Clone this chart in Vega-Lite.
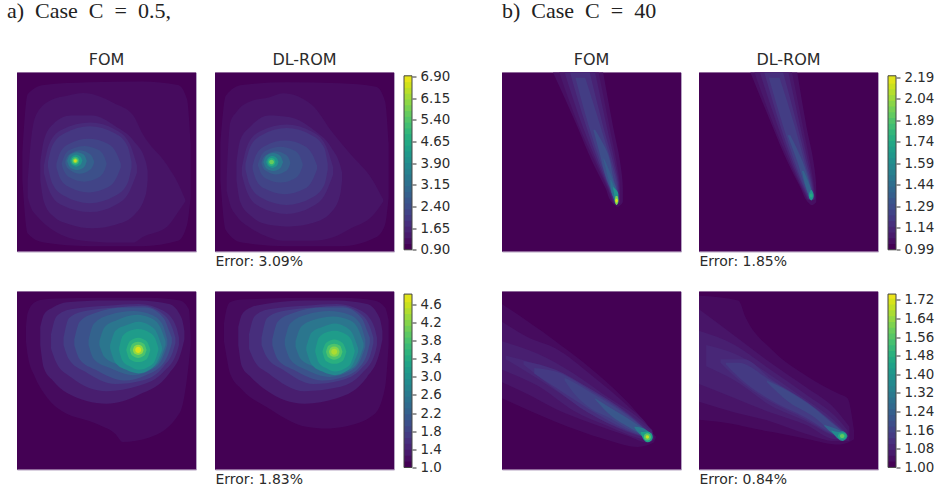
{"$schema":"https://vega.github.io/schema/vega-lite/v6.json","background":"white","padding":{"left":7,"top":-0.5,"right":5,"bottom":5},"bounds":"flush","columns":11,"spacing":{"row":40,"column":0},"resolve":{"scale":{"color":"independent"}},
"config":{"view":{"stroke":"#b5a3c2","strokeWidth":1},"title":{"font":"DejaVu Sans","fontWeight":"normal","fontSize":16,"color":"#2b2b2b","offset":5},"axis":{"labelFont":"DejaVu Sans","titleFont":"DejaVu Sans"}},
"data":{"values":[
{"p":"a1","l":0.9,"x":0,"y":0,"y2":100},{"p":"a1","l":0.9,"x":100,"y":0,"y2":100},
{"p":"a1","l":1.05,"x":3,"y":45,"y2":60},{"p":"a1","l":1.05,"x":6,"y":12,"y2":90},{"p":"a1","l":1.05,"x":15,"y":7,"y2":95},{"p":"a1","l":1.05,"x":40,"y":5.5,"y2":97},{"p":"a1","l":1.05,"x":70,"y":5,"y2":97},{"p":"a1","l":1.05,"x":90,"y":7,"y2":94},{"p":"a1","l":1.05,"x":95,"y":15,"y2":85},{"p":"a1","l":1.05,"x":97,"y":40,"y2":70},
{"p":"a1","l":1.2,"x":6,"y":60,"y2":70},{"p":"a1","l":1.2,"x":8,"y":36,"y2":76},{"p":"a1","l":1.2,"x":11,"y":23,"y2":80},{"p":"a1","l":1.2,"x":20,"y":15,"y2":88},{"p":"a1","l":1.2,"x":28,"y":13,"y2":92},{"p":"a1","l":1.2,"x":37,"y":11.5,"y2":94},{"p":"a1","l":1.2,"x":54,"y":17,"y2":95},{"p":"a1","l":1.2,"x":65,"y":24,"y2":95},{"p":"a1","l":1.2,"x":70,"y":34,"y2":92},{"p":"a1","l":1.2,"x":84,"y":52,"y2":86},{"p":"a1","l":1.2,"x":90,"y":62,"y2":78},{"p":"a1","l":1.2,"x":94,"y":71,"y2":72},
{"p":"a1","l":1.4,"x":13,"y":50,"y2":60},{"p":"a1","l":1.4,"x":15,"y":38,"y2":72},{"p":"a1","l":1.4,"x":20,"y":29,"y2":80},{"p":"a1","l":1.4,"x":30,"y":24,"y2":85},{"p":"a1","l":1.4,"x":42,"y":24,"y2":87},{"p":"a1","l":1.4,"x":55,"y":30,"y2":85},{"p":"a1","l":1.4,"x":65,"y":38,"y2":80},{"p":"a1","l":1.4,"x":72,"y":50,"y2":68},{"p":"a1","l":1.4,"x":73,"y":55,"y2":60},
{"p":"a1","l":1.6,"x":15,"y":52,"y2":56},{"p":"a1","l":1.6,"x":18,"y":40,"y2":66},{"p":"a1","l":1.6,"x":25,"y":32,"y2":74},{"p":"a1","l":1.6,"x":41,"y":28,"y2":78},{"p":"a1","l":1.6,"x":55,"y":32,"y2":74},{"p":"a1","l":1.6,"x":63,"y":40,"y2":66},{"p":"a1","l":1.6,"x":67,"y":52,"y2":56},
{"p":"a1","l":1.85,"x":17.3,"y":50,"y2":53},{"p":"a1","l":1.85,"x":19.7,"y":41,"y2":62},{"p":"a1","l":1.85,"x":26.6,"y":34,"y2":69},{"p":"a1","l":1.85,"x":40.6,"y":30,"y2":73},{"p":"a1","l":1.85,"x":54.6,"y":34,"y2":69},{"p":"a1","l":1.85,"x":61.7,"y":41,"y2":62},{"p":"a1","l":1.85,"x":64,"y":50,"y2":53},
{"p":"a1","l":2.1,"x":22,"y":51,"y2":53},{"p":"a1","l":2.1,"x":24,"y":45,"y2":59},{"p":"a1","l":2.1,"x":29,"y":40,"y2":64},{"p":"a1","l":2.1,"x":40,"y":37,"y2":67},{"p":"a1","l":2.1,"x":51,"y":40,"y2":64},{"p":"a1","l":2.1,"x":55.5,"y":45,"y2":59},{"p":"a1","l":2.1,"x":58,"y":51,"y2":53},
{"p":"a1","l":2.35,"x":25,"y":50.5,"y2":51.5},{"p":"a1","l":2.35,"x":26.5,"y":46.5,"y2":55.5},{"p":"a1","l":2.35,"x":30,"y":43,"y2":59},{"p":"a1","l":2.35,"x":37.5,"y":41,"y2":61},{"p":"a1","l":2.35,"x":45,"y":43,"y2":59},{"p":"a1","l":2.35,"x":48.5,"y":46.5,"y2":55.5},{"p":"a1","l":2.35,"x":50,"y":50.5,"y2":51.5},
{"p":"a1","l":2.7,"x":27,"y":49.5,"y2":50.5},{"p":"a1","l":2.7,"x":28,"y":47,"y2":53},{"p":"a1","l":2.7,"x":30.5,"y":45,"y2":55},{"p":"a1","l":2.7,"x":35,"y":43.5,"y2":56.5},{"p":"a1","l":2.7,"x":39.8,"y":45,"y2":55},{"p":"a1","l":2.7,"x":42,"y":47,"y2":53},{"p":"a1","l":2.7,"x":43,"y":49.5,"y2":50.5},
{"p":"a1","l":3.3,"x":28,"y":49.5,"y2":49.5},{"p":"a1","l":3.3,"x":29.6,"y":46,"y2":53},{"p":"a1","l":3.3,"x":33.5,"y":44.5,"y2":54.5},{"p":"a1","l":3.3,"x":37.4,"y":46,"y2":53},{"p":"a1","l":3.3,"x":39,"y":49.5,"y2":49.5},
{"p":"a1","l":4,"x":29.5,"y":49.3,"y2":49.3},{"p":"a1","l":4,"x":30.6,"y":47,"y2":51.6},{"p":"a1","l":4,"x":33,"y":46,"y2":52.6},{"p":"a1","l":4,"x":35.4,"y":47,"y2":51.6},{"p":"a1","l":4,"x":36.5,"y":49.3,"y2":49.3},
{"p":"a1","l":4.9,"x":30.4,"y":49.3,"y2":49.3},{"p":"a1","l":4.9,"x":31,"y":47.8,"y2":50.8},{"p":"a1","l":4.9,"x":32.6,"y":47.1,"y2":51.5},{"p":"a1","l":4.9,"x":34.2,"y":47.8,"y2":50.8},{"p":"a1","l":4.9,"x":34.8,"y":49.3,"y2":49.3},
{"p":"a1","l":5.7,"x":31.1,"y":49.3,"y2":49.3},{"p":"a1","l":5.7,"x":31.6,"y":48.3,"y2":50.3},{"p":"a1","l":5.7,"x":32.6,"y":47.9,"y2":50.7},{"p":"a1","l":5.7,"x":33.6,"y":48.3,"y2":50.3},{"p":"a1","l":5.7,"x":34.1,"y":49.3,"y2":49.3},
{"p":"a1","l":6.5,"x":31.8,"y":49.3,"y2":49.3},{"p":"a1","l":6.5,"x":32,"y":48.8,"y2":49.8},{"p":"a1","l":6.5,"x":32.6,"y":48.5,"y2":50.1},{"p":"a1","l":6.5,"x":33.2,"y":48.8,"y2":49.8},{"p":"a1","l":6.5,"x":33.4,"y":49.3,"y2":49.3},

{"p":"a2","l":0.9,"x":0,"y":0,"y2":100},{"p":"a2","l":0.9,"x":100,"y":0,"y2":100},
{"p":"a2","l":1.05,"x":3,"y":40,"y2":60},{"p":"a2","l":1.05,"x":6,"y":13,"y2":88},{"p":"a2","l":1.05,"x":15,"y":7,"y2":95},{"p":"a2","l":1.05,"x":40,"y":5.5,"y2":97},{"p":"a2","l":1.05,"x":70,"y":6,"y2":97},{"p":"a2","l":1.05,"x":90,"y":8,"y2":92},{"p":"a2","l":1.05,"x":95,"y":16,"y2":85},{"p":"a2","l":1.05,"x":97,"y":40,"y2":70},
{"p":"a2","l":1.2,"x":6.5,"y":60,"y2":66},{"p":"a2","l":1.2,"x":8.5,"y":28,"y2":74},{"p":"a2","l":1.2,"x":12,"y":22,"y2":80},{"p":"a2","l":1.2,"x":20,"y":16,"y2":87},{"p":"a2","l":1.2,"x":30,"y":14,"y2":92},{"p":"a2","l":1.2,"x":38,"y":11.6,"y2":94},{"p":"a2","l":1.2,"x":54,"y":18,"y2":94},{"p":"a2","l":1.2,"x":66,"y":34,"y2":92},{"p":"a2","l":1.2,"x":76,"y":46,"y2":87},{"p":"a2","l":1.2,"x":88,"y":60,"y2":80},{"p":"a2","l":1.2,"x":94,"y":71,"y2":72},
{"p":"a2","l":1.4,"x":12,"y":50,"y2":60},{"p":"a2","l":1.4,"x":14,"y":38,"y2":72},{"p":"a2","l":1.4,"x":20,"y":30,"y2":80},{"p":"a2","l":1.4,"x":30,"y":24,"y2":85},{"p":"a2","l":1.4,"x":42,"y":25,"y2":86},{"p":"a2","l":1.4,"x":55,"y":32,"y2":84},{"p":"a2","l":1.4,"x":65,"y":42,"y2":78},{"p":"a2","l":1.4,"x":70,"y":52,"y2":68},{"p":"a2","l":1.4,"x":71,"y":56,"y2":60},
{"p":"a2","l":1.6,"x":15,"y":53,"y2":57},{"p":"a2","l":1.6,"x":18,"y":41,"y2":67},{"p":"a2","l":1.6,"x":25,"y":33,"y2":75},{"p":"a2","l":1.6,"x":40,"y":29,"y2":79},{"p":"a2","l":1.6,"x":54,"y":33,"y2":75},{"p":"a2","l":1.6,"x":62,"y":41,"y2":67},{"p":"a2","l":1.6,"x":66,"y":53,"y2":57},
{"p":"a2","l":1.85,"x":17,"y":51,"y2":54},{"p":"a2","l":1.85,"x":19.5,"y":42,"y2":63},{"p":"a2","l":1.85,"x":26,"y":35,"y2":70},{"p":"a2","l":1.85,"x":40,"y":31,"y2":74},{"p":"a2","l":1.85,"x":54,"y":35,"y2":70},{"p":"a2","l":1.85,"x":61,"y":42,"y2":63},{"p":"a2","l":1.85,"x":63,"y":51,"y2":54},
{"p":"a2","l":2.1,"x":21,"y":52,"y2":54},{"p":"a2","l":2.1,"x":23,"y":46,"y2":60},{"p":"a2","l":2.1,"x":28,"y":41,"y2":65},{"p":"a2","l":2.1,"x":39,"y":38,"y2":68},{"p":"a2","l":2.1,"x":50,"y":41,"y2":65},{"p":"a2","l":2.1,"x":54.5,"y":46,"y2":60},{"p":"a2","l":2.1,"x":57,"y":52,"y2":54},
{"p":"a2","l":2.35,"x":24,"y":51,"y2":52},{"p":"a2","l":2.35,"x":25.5,"y":47,"y2":56},{"p":"a2","l":2.35,"x":29,"y":43.5,"y2":59.5},{"p":"a2","l":2.35,"x":36.5,"y":41.5,"y2":61.5},{"p":"a2","l":2.35,"x":44,"y":43.5,"y2":59.5},{"p":"a2","l":2.35,"x":47.5,"y":47,"y2":56},{"p":"a2","l":2.35,"x":49,"y":51,"y2":52},
{"p":"a2","l":2.7,"x":26,"y":50,"y2":51},{"p":"a2","l":2.7,"x":27,"y":47.5,"y2":53.5},{"p":"a2","l":2.7,"x":29.5,"y":45.5,"y2":55.5},{"p":"a2","l":2.7,"x":34,"y":44,"y2":57},{"p":"a2","l":2.7,"x":38.8,"y":45.5,"y2":55.5},{"p":"a2","l":2.7,"x":41,"y":47.5,"y2":53.5},{"p":"a2","l":2.7,"x":42,"y":50,"y2":51},
{"p":"a2","l":3.3,"x":27,"y":50,"y2":50},{"p":"a2","l":3.3,"x":28.6,"y":46.5,"y2":53.5},{"p":"a2","l":3.3,"x":32.5,"y":45,"y2":55},{"p":"a2","l":3.3,"x":36.4,"y":46.5,"y2":53.5},{"p":"a2","l":3.3,"x":38,"y":50,"y2":50},
{"p":"a2","l":4,"x":28.5,"y":50,"y2":50},{"p":"a2","l":4,"x":29.6,"y":47.7,"y2":52.3},{"p":"a2","l":4,"x":32,"y":46.7,"y2":53.3},{"p":"a2","l":4,"x":34.4,"y":47.7,"y2":52.3},{"p":"a2","l":4,"x":35.5,"y":50,"y2":50},
{"p":"a2","l":4.7,"x":29.4,"y":50,"y2":50},{"p":"a2","l":4.7,"x":30,"y":48.5,"y2":51.5},{"p":"a2","l":4.7,"x":31.6,"y":47.8,"y2":52.2},{"p":"a2","l":4.7,"x":33.2,"y":48.5,"y2":51.5},{"p":"a2","l":4.7,"x":33.8,"y":50,"y2":50},
{"p":"a2","l":5.5,"x":30.2,"y":50,"y2":50},{"p":"a2","l":5.5,"x":30.7,"y":49,"y2":51},{"p":"a2","l":5.5,"x":31.6,"y":48.7,"y2":51.3},{"p":"a2","l":5.5,"x":32.5,"y":49,"y2":51},{"p":"a2","l":5.5,"x":33,"y":50,"y2":50},
{"p":"a3","l":1,"x":0,"y":0,"y2":100},{"p":"a3","l":1,"x":100,"y":0,"y2":100},
{"p":"a3","l":1.1,"x":5,"y":20,"y2":28},{"p":"a3","l":1.1,"x":6,"y":12,"y2":36},{"p":"a3","l":1.1,"x":10,"y":6,"y2":48},{"p":"a3","l":1.1,"x":15,"y":4.5,"y2":57},{"p":"a3","l":1.1,"x":22,"y":4,"y2":65},{"p":"a3","l":1.1,"x":46,"y":3.5,"y2":75},{"p":"a3","l":1.1,"x":55,"y":3.5,"y2":80},{"p":"a3","l":1.1,"x":59,"y":3.5,"y2":84.5},{"p":"a3","l":1.1,"x":74,"y":3.5,"y2":82},{"p":"a3","l":1.1,"x":91,"y":5,"y2":68},{"p":"a3","l":1.1,"x":96,"y":10,"y2":40},{"p":"a3","l":1.1,"x":97,"y":25,"y2":30},
{"p":"a3","l":1.3,"x":13,"y":20,"y2":30},{"p":"a3","l":1.3,"x":15,"y":13,"y2":43},{"p":"a3","l":1.3,"x":20,"y":9,"y2":50},{"p":"a3","l":1.3,"x":28,"y":6,"y2":57},{"p":"a3","l":1.3,"x":50,"y":5,"y2":63},{"p":"a3","l":1.3,"x":68,"y":5,"y2":58},{"p":"a3","l":1.3,"x":85,"y":7,"y2":46},{"p":"a3","l":1.3,"x":92,"y":15,"y2":33},{"p":"a3","l":1.3,"x":93.5,"y":22,"y2":27},
{"p":"a3","l":1.5,"x":19,"y":24,"y2":32},{"p":"a3","l":1.5,"x":22,"y":14,"y2":40},{"p":"a3","l":1.5,"x":30,"y":10,"y2":48},{"p":"a3","l":1.5,"x":50,"y":8,"y2":56},{"p":"a3","l":1.5,"x":68,"y":7,"y2":53},{"p":"a3","l":1.5,"x":82,"y":11,"y2":45},{"p":"a3","l":1.5,"x":89,"y":20,"y2":35},{"p":"a3","l":1.5,"x":90.5,"y":26,"y2":30},
{"p":"a3","l":1.7,"x":26,"y":26,"y2":30},{"p":"a3","l":1.7,"x":29,"y":15,"y2":38},{"p":"a3","l":1.7,"x":38,"y":11,"y2":45},{"p":"a3","l":1.7,"x":55,"y":9,"y2":52},{"p":"a3","l":1.7,"x":70,"y":8,"y2":50},{"p":"a3","l":1.7,"x":82,"y":13,"y2":42},{"p":"a3","l":1.7,"x":87,"y":21,"y2":34},{"p":"a3","l":1.7,"x":88.5,"y":26,"y2":29},
{"p":"a3","l":1.95,"x":32,"y":27,"y2":30},{"p":"a3","l":1.95,"x":35,"y":17,"y2":38},{"p":"a3","l":1.95,"x":44,"y":12,"y2":44},{"p":"a3","l":1.95,"x":60,"y":9,"y2":50},{"p":"a3","l":1.95,"x":72,"y":9,"y2":47},{"p":"a3","l":1.95,"x":82,"y":15,"y2":40},{"p":"a3","l":1.95,"x":85,"y":22,"y2":34},{"p":"a3","l":1.95,"x":86.5,"y":26,"y2":29},
{"p":"a3","l":2.2,"x":40,"y":27,"y2":30},{"p":"a3","l":2.2,"x":43,"y":18,"y2":38},{"p":"a3","l":2.2,"x":52,"y":13,"y2":43},{"p":"a3","l":2.2,"x":65,"y":11,"y2":47},{"p":"a3","l":2.2,"x":75,"y":13,"y2":44},{"p":"a3","l":2.2,"x":81,"y":18,"y2":38},{"p":"a3","l":2.2,"x":84,"y":27,"y2":30},
{"p":"a3","l":2.5,"x":46,"y":28,"y2":30},{"p":"a3","l":2.5,"x":49,"y":20,"y2":37},{"p":"a3","l":2.5,"x":56,"y":16,"y2":41},{"p":"a3","l":2.5,"x":67,"y":13,"y2":45},{"p":"a3","l":2.5,"x":75,"y":15,"y2":43},{"p":"a3","l":2.5,"x":80,"y":20,"y2":38},{"p":"a3","l":2.5,"x":83,"y":28,"y2":30},
{"p":"a3","l":2.8,"x":52,"y":30,"y2":32},{"p":"a3","l":2.8,"x":55,"y":22,"y2":40},{"p":"a3","l":2.8,"x":61,"y":19,"y2":44},{"p":"a3","l":2.8,"x":68,"y":17,"y2":46},{"p":"a3","l":2.8,"x":74,"y":19,"y2":44},{"p":"a3","l":2.8,"x":78,"y":23,"y2":40},{"p":"a3","l":2.8,"x":81,"y":31,"y2":33},
{"p":"a3","l":3.1,"x":57,"y":32,"y2":33},{"p":"a3","l":3.1,"x":59,"y":25,"y2":39},{"p":"a3","l":3.1,"x":63,"y":22,"y2":42},{"p":"a3","l":3.1,"x":68,"y":21,"y2":44},{"p":"a3","l":3.1,"x":74,"y":23,"y2":42},{"p":"a3","l":3.1,"x":77,"y":26,"y2":39},{"p":"a3","l":3.1,"x":79,"y":32,"y2":33},
{"p":"a3","l":3.4,"x":61,"y":32.8,"y2":32.8},{"p":"a3","l":3.4,"x":63,"y":28,"y2":38},{"p":"a3","l":3.4,"x":67.7,"y":26,"y2":39.6},{"p":"a3","l":3.4,"x":72.4,"y":28,"y2":38},{"p":"a3","l":3.4,"x":74.5,"y":32.8,"y2":32.8},
{"p":"a3","l":3.75,"x":63,"y":32.8,"y2":32.8},{"p":"a3","l":3.75,"x":64.4,"y":29.5,"y2":36},{"p":"a3","l":3.75,"x":67.7,"y":28.3,"y2":37.3},{"p":"a3","l":3.75,"x":71,"y":29.5,"y2":36},{"p":"a3","l":3.75,"x":72.4,"y":32.8,"y2":32.8},
{"p":"a3","l":4.2,"x":64.7,"y":32.8,"y2":32.8},{"p":"a3","l":4.2,"x":65.6,"y":30.7,"y2":34.9},{"p":"a3","l":4.2,"x":67.7,"y":29.9,"y2":35.7},{"p":"a3","l":4.2,"x":69.8,"y":30.7,"y2":34.9},{"p":"a3","l":4.2,"x":70.7,"y":32.8,"y2":32.8},
{"p":"a3","l":4.6,"x":66,"y":32.8,"y2":32.8},{"p":"a3","l":4.6,"x":66.5,"y":31.6,"y2":34},{"p":"a3","l":4.6,"x":67.7,"y":31.1,"y2":34.5},{"p":"a3","l":4.6,"x":68.9,"y":31.6,"y2":34},{"p":"a3","l":4.6,"x":69.4,"y":32.8,"y2":32.8},

{"p":"a4","l":1,"x":0,"y":0,"y2":100},{"p":"a4","l":1,"x":100,"y":0,"y2":100},
{"p":"a4","l":1.1,"x":5,"y":18,"y2":28},{"p":"a4","l":1.1,"x":6,"y":12,"y2":34},{"p":"a4","l":1.1,"x":8.4,"y":6,"y2":46},{"p":"a4","l":1.1,"x":15,"y":4.5,"y2":55},{"p":"a4","l":1.1,"x":29,"y":4,"y2":65},{"p":"a4","l":1.1,"x":51,"y":3.5,"y2":76},{"p":"a4","l":1.1,"x":62,"y":3.5,"y2":77},{"p":"a4","l":1.1,"x":72,"y":3.5,"y2":76},{"p":"a4","l":1.1,"x":89,"y":5,"y2":69},{"p":"a4","l":1.1,"x":95,"y":9,"y2":54},{"p":"a4","l":1.1,"x":97,"y":16,"y2":30},
{"p":"a4","l":1.3,"x":13,"y":20,"y2":30},{"p":"a4","l":1.3,"x":15,"y":13,"y2":42},{"p":"a4","l":1.3,"x":20,"y":9,"y2":48},{"p":"a4","l":1.3,"x":28,"y":7,"y2":55},{"p":"a4","l":1.3,"x":50,"y":5,"y2":63},{"p":"a4","l":1.3,"x":68,"y":5,"y2":60},{"p":"a4","l":1.3,"x":85,"y":7,"y2":48},{"p":"a4","l":1.3,"x":92,"y":15,"y2":34},{"p":"a4","l":1.3,"x":93.5,"y":22,"y2":27},
{"p":"a4","l":1.5,"x":19,"y":24,"y2":32},{"p":"a4","l":1.5,"x":22,"y":14,"y2":39},{"p":"a4","l":1.5,"x":30,"y":10,"y2":46},{"p":"a4","l":1.5,"x":50,"y":8,"y2":56},{"p":"a4","l":1.5,"x":68,"y":7,"y2":54},{"p":"a4","l":1.5,"x":82,"y":11,"y2":46},{"p":"a4","l":1.5,"x":89,"y":20,"y2":36},{"p":"a4","l":1.5,"x":90.5,"y":26,"y2":30},
{"p":"a4","l":1.7,"x":26,"y":26,"y2":30},{"p":"a4","l":1.7,"x":29,"y":15,"y2":37},{"p":"a4","l":1.7,"x":38,"y":11,"y2":44},{"p":"a4","l":1.7,"x":55,"y":9,"y2":52},{"p":"a4","l":1.7,"x":70,"y":8,"y2":50},{"p":"a4","l":1.7,"x":82,"y":13,"y2":43},{"p":"a4","l":1.7,"x":87,"y":21,"y2":35},{"p":"a4","l":1.7,"x":88.5,"y":26,"y2":29},
{"p":"a4","l":1.95,"x":32,"y":27,"y2":30},{"p":"a4","l":1.95,"x":35,"y":17,"y2":38},{"p":"a4","l":1.95,"x":44,"y":12,"y2":44},{"p":"a4","l":1.95,"x":60,"y":9,"y2":50},{"p":"a4","l":1.95,"x":72,"y":9,"y2":48},{"p":"a4","l":1.95,"x":82,"y":15,"y2":41},{"p":"a4","l":1.95,"x":85,"y":22,"y2":35},{"p":"a4","l":1.95,"x":86.5,"y":26,"y2":29},
{"p":"a4","l":2.2,"x":39,"y":27,"y2":30},{"p":"a4","l":2.2,"x":42,"y":18,"y2":38},{"p":"a4","l":2.2,"x":51,"y":13,"y2":44},{"p":"a4","l":2.2,"x":64,"y":11,"y2":48},{"p":"a4","l":2.2,"x":75,"y":13,"y2":45},{"p":"a4","l":2.2,"x":81,"y":18,"y2":39},{"p":"a4","l":2.2,"x":84,"y":27,"y2":31},
{"p":"a4","l":2.5,"x":45,"y":28,"y2":31},{"p":"a4","l":2.5,"x":48,"y":20,"y2":38},{"p":"a4","l":2.5,"x":55,"y":16,"y2":42},{"p":"a4","l":2.5,"x":66,"y":14,"y2":46},{"p":"a4","l":2.5,"x":75,"y":16,"y2":44},{"p":"a4","l":2.5,"x":80,"y":21,"y2":39},{"p":"a4","l":2.5,"x":83,"y":29,"y2":31},
{"p":"a4","l":2.8,"x":51,"y":31,"y2":33},{"p":"a4","l":2.8,"x":54,"y":23,"y2":41},{"p":"a4","l":2.8,"x":60,"y":20,"y2":45},{"p":"a4","l":2.8,"x":67,"y":18,"y2":47},{"p":"a4","l":2.8,"x":73,"y":20,"y2":45},{"p":"a4","l":2.8,"x":77,"y":24,"y2":41},{"p":"a4","l":2.8,"x":80,"y":32,"y2":34},
{"p":"a4","l":3.1,"x":56,"y":33,"y2":34},{"p":"a4","l":3.1,"x":58,"y":26,"y2":40},{"p":"a4","l":3.1,"x":62,"y":23,"y2":43},{"p":"a4","l":3.1,"x":67,"y":22,"y2":45},{"p":"a4","l":3.1,"x":73,"y":24,"y2":43},{"p":"a4","l":3.1,"x":76,"y":27,"y2":40},{"p":"a4","l":3.1,"x":78,"y":33,"y2":34},
{"p":"a4","l":3.4,"x":60,"y":33.8,"y2":33.8},{"p":"a4","l":3.4,"x":62,"y":29,"y2":39},{"p":"a4","l":3.4,"x":66.6,"y":27,"y2":40.6},{"p":"a4","l":3.4,"x":71.3,"y":29,"y2":39},{"p":"a4","l":3.4,"x":73.4,"y":33.8,"y2":33.8},
{"p":"a4","l":3.75,"x":62,"y":33.8,"y2":33.8},{"p":"a4","l":3.75,"x":63.3,"y":30.5,"y2":37},{"p":"a4","l":3.75,"x":66.6,"y":29.3,"y2":38.3},{"p":"a4","l":3.75,"x":69.9,"y":30.5,"y2":37},{"p":"a4","l":3.75,"x":71.2,"y":33.8,"y2":33.8},
{"p":"a4","l":4.1,"x":63.6,"y":33.8,"y2":33.8},{"p":"a4","l":4.1,"x":64.5,"y":31.7,"y2":35.9},{"p":"a4","l":4.1,"x":66.6,"y":30.9,"y2":36.7},{"p":"a4","l":4.1,"x":68.7,"y":31.7,"y2":35.9},{"p":"a4","l":4.1,"x":69.6,"y":33.8,"y2":33.8},
{"p":"a4","l":4.35,"x":64.9,"y":33.8,"y2":33.8},{"p":"a4","l":4.35,"x":65.4,"y":32.6,"y2":35},{"p":"a4","l":4.35,"x":66.6,"y":32.1,"y2":35.5},{"p":"a4","l":4.35,"x":67.8,"y":32.6,"y2":35},{"p":"a4","l":4.35,"x":68.3,"y":33.8,"y2":33.8},

{"p":"b1","l":0.985,"y":0,"x":0,"x2":100},{"p":"b1","l":0.985,"y":100,"x":0,"x2":100},
{"p":"b1","l":1.03,"y":0,"x":28.5,"x2":56.5},{"p":"b1","l":1.03,"y":30,"x":42,"x2":62},{"p":"b1","l":1.03,"y":50,"x":50.5,"x2":66},{"p":"b1","l":1.03,"y":65,"x":58,"x2":67.5},{"p":"b1","l":1.03,"y":72,"x":61,"x2":67.5},{"p":"b1","l":1.03,"y":75,"x":64,"x2":65},
{"p":"b1","l":1.06,"y":0,"x":32,"x2":54},{"p":"b1","l":1.06,"y":30,"x":43,"x2":60},{"p":"b1","l":1.06,"y":50,"x":52,"x2":64},{"p":"b1","l":1.06,"y":65,"x":59,"x2":66},{"p":"b1","l":1.06,"y":73,"x":62,"x2":66},
{"p":"b1","l":1.1,"y":0,"x":35,"x2":52},{"p":"b1","l":1.1,"y":30,"x":45,"x2":58.5},{"p":"b1","l":1.1,"y":50,"x":53,"x2":63},{"p":"b1","l":1.1,"y":65,"x":59.5,"x2":65.5},{"p":"b1","l":1.1,"y":73,"x":62.5,"x2":65.5},
{"p":"b1","l":1.15,"y":0,"x":38,"x2":49},{"p":"b1","l":1.15,"y":30,"x":47,"x2":56.5},{"p":"b1","l":1.15,"y":50,"x":54,"x2":62},{"p":"b1","l":1.15,"y":65,"x":60,"x2":65},{"p":"b1","l":1.15,"y":73,"x":63,"x2":65},
{"p":"b1","l":1.2,"y":3,"x":41,"x2":46.5},{"p":"b1","l":1.2,"y":30,"x":48.5,"x2":55},{"p":"b1","l":1.2,"y":50,"x":55,"x2":61},{"p":"b1","l":1.2,"y":65,"x":60.5,"x2":64.5},{"p":"b1","l":1.2,"y":73,"x":63.3,"x2":64.7},
{"p":"b1","l":1.27,"y":32,"x":51,"x2":52},{"p":"b1","l":1.27,"y":45,"x":54.5,"x2":59},{"p":"b1","l":1.27,"y":60,"x":58.5,"x2":62.5},{"p":"b1","l":1.27,"y":65,"x":60.5,"x2":64},{"p":"b1","l":1.27,"y":73,"x":63.5,"x2":64.5},
{"p":"b1","l":1.33,"y":48,"x":56.5,"x2":57},{"p":"b1","l":1.33,"y":60,"x":59.5,"x2":62},{"p":"b1","l":1.33,"y":68,"x":61.5,"x2":64.5},{"p":"b1","l":1.33,"y":73.5,"x":63.7,"x2":64.3},
{"p":"b1","l":1.42,"y":60,"x":60.5,"x2":61},{"p":"b1","l":1.42,"y":66,"x":61,"x2":63.5},{"p":"b1","l":1.42,"y":70,"x":62.3,"x2":65},{"p":"b1","l":1.42,"y":74,"x":64,"x2":64.1},
{"p":"b1","l":1.6,"y":64,"x":61.9,"x2":62.1},{"p":"b1","l":1.6,"y":68,"x":62.6,"x2":65},{"p":"b1","l":1.6,"y":71.5,"x":63,"x2":65},{"p":"b1","l":1.6,"y":74,"x":64,"x2":64.1},
{"p":"b1","l":1.95,"y":69,"x":63.5,"x2":64.5},{"p":"b1","l":1.95,"y":70,"x":63.2,"x2":64.8},{"p":"b1","l":1.95,"y":71.6,"x":63,"x2":65},{"p":"b1","l":1.95,"y":73.2,"x":63.3,"x2":64.7},{"p":"b1","l":1.95,"y":74,"x":63.9,"x2":64.1},
{"p":"b1","l":2.15,"y":70.6,"x":64,"x2":64},{"p":"b1","l":2.15,"y":71,"x":63.5,"x2":64.5},{"p":"b1","l":2.15,"y":71.6,"x":63.3,"x2":64.7},{"p":"b1","l":2.15,"y":72.2,"x":63.5,"x2":64.5},{"p":"b1","l":2.15,"y":72.8,"x":64,"x2":64},

{"p":"b2","l":0.985,"y":0,"x":0,"x2":100},{"p":"b2","l":0.985,"y":100,"x":0,"x2":100},
{"p":"b2","l":1.03,"y":0,"x":28.7,"x2":54.9},{"p":"b2","l":1.03,"y":30,"x":41,"x2":60},{"p":"b2","l":1.03,"y":50,"x":49.5,"x2":64},{"p":"b2","l":1.03,"y":65,"x":57,"x2":65.5},{"p":"b2","l":1.03,"y":72,"x":60.5,"x2":65.5},{"p":"b2","l":1.03,"y":74,"x":62.5,"x2":63.5},
{"p":"b2","l":1.06,"y":0,"x":31,"x2":52},{"p":"b2","l":1.06,"y":30,"x":42,"x2":58},{"p":"b2","l":1.06,"y":50,"x":50.5,"x2":62},{"p":"b2","l":1.06,"y":65,"x":57.5,"x2":64.5},{"p":"b2","l":1.06,"y":71,"x":60.5,"x2":65},
{"p":"b2","l":1.1,"y":0,"x":34,"x2":50},{"p":"b2","l":1.1,"y":30,"x":44,"x2":56.5},{"p":"b2","l":1.1,"y":50,"x":51.5,"x2":61},{"p":"b2","l":1.1,"y":65,"x":58,"x2":64},{"p":"b2","l":1.1,"y":71,"x":61,"x2":64.5},
{"p":"b2","l":1.15,"y":0,"x":36.5,"x2":47},{"p":"b2","l":1.15,"y":30,"x":45.5,"x2":55},{"p":"b2","l":1.15,"y":50,"x":52.5,"x2":60},{"p":"b2","l":1.15,"y":65,"x":58.7,"x2":63.5},{"p":"b2","l":1.15,"y":71,"x":61.5,"x2":64},
{"p":"b2","l":1.2,"y":3,"x":39,"x2":45},{"p":"b2","l":1.2,"y":30,"x":47,"x2":53.5},{"p":"b2","l":1.2,"y":50,"x":53.5,"x2":59},{"p":"b2","l":1.2,"y":65,"x":59.2,"x2":63},{"p":"b2","l":1.2,"y":71,"x":62,"x2":63.5},
{"p":"b2","l":1.27,"y":35,"x":49.5,"x2":51},{"p":"b2","l":1.27,"y":50,"x":55,"x2":58},{"p":"b2","l":1.27,"y":65,"x":59.8,"x2":62.5},{"p":"b2","l":1.27,"y":70.5,"x":62,"x2":63.3},
{"p":"b2","l":1.36,"y":55,"x":57.5,"x2":58.5},{"p":"b2","l":1.36,"y":65,"x":60,"x2":62.5},{"p":"b2","l":1.36,"y":70.5,"x":62,"x2":63.5},
{"p":"b2","l":1.6,"y":65.5,"x":62.6,"x2":62.8},{"p":"b2","l":1.6,"y":67,"x":61.7,"x2":63.7},{"p":"b2","l":1.6,"y":68.8,"x":61.3,"x2":64.1},{"p":"b2","l":1.6,"y":70.6,"x":61.8,"x2":63.6},{"p":"b2","l":1.6,"y":71.5,"x":62.6,"x2":62.8},
{"p":"b2","l":1.72,"y":67.6,"x":62.7,"x2":62.7},{"p":"b2","l":1.72,"y":68,"x":62.1,"x2":63.3},{"p":"b2","l":1.72,"y":68.8,"x":61.9,"x2":63.5},{"p":"b2","l":1.72,"y":69.6,"x":62.1,"x2":63.3},{"p":"b2","l":1.72,"y":70,"x":62.7,"x2":62.7},

{"p":"b3","l":1,"x":0,"y":0,"y2":100},{"p":"b3","l":1,"x":100,"y":0,"y2":100},
{"p":"b3","l":1.02,"x":0,"y":7,"y2":60},{"p":"b3","l":1.02,"x":29.5,"y":27.6,"y2":73},{"p":"b3","l":1.02,"x":57.5,"y":50,"y2":83},{"p":"b3","l":1.02,"x":76,"y":68.7,"y2":87.3},{"p":"b3","l":1.02,"x":84.5,"y":80,"y2":85},{"p":"b3","l":1.02,"x":86,"y":81.5,"y2":82},
{"p":"b3","l":1.04,"x":0,"y":17,"y2":51},{"p":"b3","l":1.04,"x":15,"y":26,"y2":58},{"p":"b3","l":1.04,"x":30,"y":32,"y2":66},{"p":"b3","l":1.04,"x":50,"y":47,"y2":74},{"p":"b3","l":1.04,"x":70,"y":64,"y2":81},{"p":"b3","l":1.04,"x":82,"y":76,"y2":85},{"p":"b3","l":1.04,"x":85,"y":81,"y2":83},
{"p":"b3","l":1.06,"x":0,"y":28,"y2":44},{"p":"b3","l":1.06,"x":20,"y":35,"y2":53},{"p":"b3","l":1.06,"x":40,"y":46,"y2":67},{"p":"b3","l":1.06,"x":60,"y":60,"y2":76},{"p":"b3","l":1.06,"x":75,"y":70,"y2":82},{"p":"b3","l":1.06,"x":84,"y":78,"y2":84},
{"p":"b3","l":1.08,"x":2,"y":36,"y2":38},{"p":"b3","l":1.08,"x":20,"y":41,"y2":49},{"p":"b3","l":1.08,"x":35,"y":47,"y2":59},{"p":"b3","l":1.08,"x":50,"y":55,"y2":69},{"p":"b3","l":1.08,"x":70,"y":68,"y2":79},{"p":"b3","l":1.08,"x":84,"y":79,"y2":83.5},
{"p":"b3","l":1.1,"x":12,"y":39,"y2":41},{"p":"b3","l":1.1,"x":30,"y":44,"y2":55},{"p":"b3","l":1.1,"x":48,"y":54,"y2":68},{"p":"b3","l":1.1,"x":70,"y":68.5,"y2":78.5},{"p":"b3","l":1.1,"x":83.5,"y":80,"y2":83},
{"p":"b3","l":1.125,"x":18,"y":43,"y2":46},{"p":"b3","l":1.125,"x":30,"y":45,"y2":54},{"p":"b3","l":1.125,"x":50,"y":56,"y2":67},{"p":"b3","l":1.125,"x":70,"y":69,"y2":78},{"p":"b3","l":1.125,"x":83,"y":80,"y2":83},
{"p":"b3","l":1.15,"x":35,"y":48.5,"y2":50},{"p":"b3","l":1.15,"x":40,"y":51,"y2":57},{"p":"b3","l":1.15,"x":50,"y":57,"y2":66},{"p":"b3","l":1.15,"x":60,"y":63,"y2":71},{"p":"b3","l":1.15,"x":72,"y":71,"y2":78},{"p":"b3","l":1.15,"x":83,"y":80,"y2":83},
{"p":"b3","l":1.2,"x":52,"y":60,"y2":60.5},{"p":"b3","l":1.2,"x":60,"y":65,"y2":69},{"p":"b3","l":1.2,"x":73,"y":73,"y2":77.5},{"p":"b3","l":1.2,"x":83,"y":80,"y2":83.4},
{"p":"b3","l":1.3,"x":74,"y":76,"y2":76.5},{"p":"b3","l":1.3,"x":78,"y":76.5,"y2":81},{"p":"b3","l":1.3,"x":84,"y":80.5,"y2":83},
{"p":"b3","l":1.42,"x":77.5,"y":79,"y2":79.5},{"p":"b3","l":1.42,"x":79,"y":79,"y2":83},{"p":"b3","l":1.42,"x":81.2,"y":78.7,"y2":84.7},{"p":"b3","l":1.42,"x":83.4,"y":79.6,"y2":83.8},{"p":"b3","l":1.42,"x":84.2,"y":81.7,"y2":81.7},
{"p":"b3","l":1.55,"x":79.2,"y":81.7,"y2":81.7},{"p":"b3","l":1.55,"x":79.8,"y":80.2,"y2":83.2},{"p":"b3","l":1.55,"x":81.2,"y":79.7,"y2":83.7},{"p":"b3","l":1.55,"x":82.6,"y":80.2,"y2":83.2},{"p":"b3","l":1.55,"x":83.2,"y":81.7,"y2":81.7},
{"p":"b3","l":1.68,"x":80.2,"y":81.7,"y2":81.7},{"p":"b3","l":1.68,"x":80.6,"y":80.9,"y2":82.5},{"p":"b3","l":1.68,"x":81.2,"y":80.7,"y2":82.7},{"p":"b3","l":1.68,"x":81.8,"y":80.9,"y2":82.5},{"p":"b3","l":1.68,"x":82.2,"y":81.7,"y2":81.7},

{"p":"b4","l":1,"x":0,"y":0,"y2":100},{"p":"b4","l":1,"x":100,"y":0,"y2":100},
{"p":"b4","l":1.02,"x":0,"y":2.4,"y2":72},{"p":"b4","l":1.02,"x":22,"y":5,"y2":75},{"p":"b4","l":1.02,"x":26,"y":14.5,"y2":76},{"p":"b4","l":1.02,"x":41,"y":33,"y2":79},{"p":"b4","l":1.02,"x":61,"y":48,"y2":83},{"p":"b4","l":1.02,"x":78,"y":57.5,"y2":86},{"p":"b4","l":1.02,"x":83,"y":60,"y2":85},{"p":"b4","l":1.02,"x":86.6,"y":78,"y2":83},
{"p":"b4","l":1.04,"x":0,"y":10,"y2":62},{"p":"b4","l":1.04,"x":20,"y":25,"y2":68},{"p":"b4","l":1.04,"x":40,"y":40,"y2":73},{"p":"b4","l":1.04,"x":60,"y":54,"y2":80},{"p":"b4","l":1.04,"x":76,"y":66,"y2":84},{"p":"b4","l":1.04,"x":84,"y":76,"y2":84},
{"p":"b4","l":1.06,"x":0,"y":22,"y2":52},{"p":"b4","l":1.06,"x":20,"y":30,"y2":60},{"p":"b4","l":1.06,"x":40,"y":44,"y2":68},{"p":"b4","l":1.06,"x":60,"y":58,"y2":75},{"p":"b4","l":1.06,"x":76,"y":70,"y2":83},{"p":"b4","l":1.06,"x":83,"y":78,"y2":83},
{"p":"b4","l":1.08,"x":4,"y":30,"y2":42},{"p":"b4","l":1.08,"x":20,"y":35,"y2":50},{"p":"b4","l":1.08,"x":40,"y":47,"y2":64},{"p":"b4","l":1.08,"x":60,"y":61,"y2":73},{"p":"b4","l":1.08,"x":75,"y":72,"y2":81},{"p":"b4","l":1.08,"x":82,"y":79,"y2":83},
{"p":"b4","l":1.1,"x":12,"y":38,"y2":40},{"p":"b4","l":1.1,"x":25,"y":38,"y2":52},{"p":"b4","l":1.1,"x":40,"y":49,"y2":62},{"p":"b4","l":1.1,"x":60,"y":62,"y2":72},{"p":"b4","l":1.1,"x":75,"y":73.5,"y2":80.5},{"p":"b4","l":1.1,"x":82,"y":79.5,"y2":82.5},
{"p":"b4","l":1.125,"x":15,"y":40,"y2":41},{"p":"b4","l":1.125,"x":22,"y":40,"y2":48},{"p":"b4","l":1.125,"x":40,"y":50,"y2":61},{"p":"b4","l":1.125,"x":60,"y":62,"y2":71},{"p":"b4","l":1.125,"x":75,"y":74,"y2":80},{"p":"b4","l":1.125,"x":82,"y":80,"y2":82.5},
{"p":"b4","l":1.16,"x":38,"y":50,"y2":51},{"p":"b4","l":1.16,"x":50,"y":56,"y2":62},{"p":"b4","l":1.16,"x":65,"y":66,"y2":71},{"p":"b4","l":1.16,"x":75,"y":74.5,"y2":79.5},{"p":"b4","l":1.16,"x":82,"y":80,"y2":82.5},
{"p":"b4","l":1.24,"x":70,"y":75,"y2":75.5},{"p":"b4","l":1.24,"x":75,"y":76.5,"y2":80},{"p":"b4","l":1.24,"x":82.5,"y":80,"y2":82.5},
{"p":"b4","l":1.35,"x":74,"y":78,"y2":78.5},{"p":"b4","l":1.35,"x":78,"y":79,"y2":83},{"p":"b4","l":1.35,"x":80,"y":78.5,"y2":84},{"p":"b4","l":1.35,"x":82,"y":79.5,"y2":83},{"p":"b4","l":1.35,"x":83,"y":81.2,"y2":81.2},
{"p":"b4","l":1.45,"x":77.5,"y":81.2,"y2":81.2},{"p":"b4","l":1.45,"x":78.3,"y":79.8,"y2":82.6},{"p":"b4","l":1.45,"x":80,"y":79.3,"y2":83.1},{"p":"b4","l":1.45,"x":81.7,"y":79.8,"y2":82.6},{"p":"b4","l":1.45,"x":82.5,"y":81.2,"y2":81.2},
{"p":"b4","l":1.56,"x":78.7,"y":81.2,"y2":81.2},{"p":"b4","l":1.56,"x":79.1,"y":80.4,"y2":82},{"p":"b4","l":1.56,"x":80,"y":80.1,"y2":82.3},{"p":"b4","l":1.56,"x":80.9,"y":80.4,"y2":82},{"p":"b4","l":1.56,"x":81.3,"y":81.2,"y2":81.2},

{"p":"c1","v":0.9,"v2":1.3},{"p":"c1","v":1.1,"v2":1.5},{"p":"c1","v":1.3,"v2":1.7},{"p":"c1","v":1.5,"v2":1.9},{"p":"c1","v":1.7,"v2":2.1},{"p":"c1","v":1.9,"v2":2.3},{"p":"c1","v":2.1,"v2":2.5},{"p":"c1","v":2.3,"v2":2.7},{"p":"c1","v":2.5,"v2":2.9},{"p":"c1","v":2.7,"v2":3.1},{"p":"c1","v":2.9,"v2":3.3},{"p":"c1","v":3.1,"v2":3.5},{"p":"c1","v":3.3,"v2":3.7},{"p":"c1","v":3.5,"v2":3.9},{"p":"c1","v":3.7,"v2":4.1},{"p":"c1","v":3.9,"v2":4.3},{"p":"c1","v":4.1,"v2":4.5},{"p":"c1","v":4.3,"v2":4.7},{"p":"c1","v":4.5,"v2":4.9},{"p":"c1","v":4.7,"v2":5.1},{"p":"c1","v":4.9,"v2":5.3},{"p":"c1","v":5.1,"v2":5.5},{"p":"c1","v":5.3,"v2":5.7},{"p":"c1","v":5.5,"v2":5.9},{"p":"c1","v":5.7,"v2":6.1},{"p":"c1","v":5.9,"v2":6.3},{"p":"c1","v":6.1,"v2":6.5},{"p":"c1","v":6.3,"v2":6.7},{"p":"c1","v":6.5,"v2":6.92},{"p":"c1","v":6.7,"v2":6.92},
{"p":"c2","v":1,"v2":1.26},{"p":"c2","v":1.13,"v2":1.39},{"p":"c2","v":1.26,"v2":1.52},{"p":"c2","v":1.39,"v2":1.65},{"p":"c2","v":1.52,"v2":1.78},{"p":"c2","v":1.65,"v2":1.91},{"p":"c2","v":1.78,"v2":2.04},{"p":"c2","v":1.91,"v2":2.17},{"p":"c2","v":2.04,"v2":2.3},{"p":"c2","v":2.17,"v2":2.43},{"p":"c2","v":2.3,"v2":2.56},{"p":"c2","v":2.43,"v2":2.69},{"p":"c2","v":2.56,"v2":2.82},{"p":"c2","v":2.69,"v2":2.95},{"p":"c2","v":2.82,"v2":3.08},{"p":"c2","v":2.95,"v2":3.21},{"p":"c2","v":3.08,"v2":3.34},{"p":"c2","v":3.21,"v2":3.47},{"p":"c2","v":3.34,"v2":3.6},{"p":"c2","v":3.47,"v2":3.73},{"p":"c2","v":3.6,"v2":3.86},{"p":"c2","v":3.73,"v2":3.99},{"p":"c2","v":3.86,"v2":4.12},{"p":"c2","v":3.99,"v2":4.25},{"p":"c2","v":4.12,"v2":4.38},{"p":"c2","v":4.25,"v2":4.51},{"p":"c2","v":4.38,"v2":4.64},{"p":"c2","v":4.51,"v2":4.77},{"p":"c2","v":4.64,"v2":4.82},
{"p":"c3","v":0.985,"v2":1.065},{"p":"c3","v":1.025,"v2":1.105},{"p":"c3","v":1.065,"v2":1.145},{"p":"c3","v":1.105,"v2":1.185},{"p":"c3","v":1.145,"v2":1.225},{"p":"c3","v":1.185,"v2":1.265},{"p":"c3","v":1.225,"v2":1.305},{"p":"c3","v":1.265,"v2":1.345},{"p":"c3","v":1.305,"v2":1.385},{"p":"c3","v":1.345,"v2":1.425},{"p":"c3","v":1.385,"v2":1.465},{"p":"c3","v":1.425,"v2":1.505},{"p":"c3","v":1.465,"v2":1.545},{"p":"c3","v":1.505,"v2":1.585},{"p":"c3","v":1.545,"v2":1.625},{"p":"c3","v":1.585,"v2":1.665},{"p":"c3","v":1.625,"v2":1.705},{"p":"c3","v":1.665,"v2":1.745},{"p":"c3","v":1.705,"v2":1.785},{"p":"c3","v":1.745,"v2":1.825},{"p":"c3","v":1.785,"v2":1.865},{"p":"c3","v":1.825,"v2":1.905},{"p":"c3","v":1.865,"v2":1.945},{"p":"c3","v":1.905,"v2":1.985},{"p":"c3","v":1.945,"v2":2.025},{"p":"c3","v":1.985,"v2":2.065},{"p":"c3","v":2.025,"v2":2.105},{"p":"c3","v":2.065,"v2":2.145},{"p":"c3","v":2.105,"v2":2.2},{"p":"c3","v":2.145,"v2":2.2},
{"p":"c4","v":1,"v2":1.05},{"p":"c4","v":1.025,"v2":1.075},{"p":"c4","v":1.05,"v2":1.1},{"p":"c4","v":1.075,"v2":1.125},{"p":"c4","v":1.1,"v2":1.15},{"p":"c4","v":1.125,"v2":1.175},{"p":"c4","v":1.15,"v2":1.2},{"p":"c4","v":1.175,"v2":1.225},{"p":"c4","v":1.2,"v2":1.25},{"p":"c4","v":1.225,"v2":1.275},{"p":"c4","v":1.25,"v2":1.3},{"p":"c4","v":1.275,"v2":1.325},{"p":"c4","v":1.3,"v2":1.35},{"p":"c4","v":1.325,"v2":1.375},{"p":"c4","v":1.35,"v2":1.4},{"p":"c4","v":1.375,"v2":1.425},{"p":"c4","v":1.4,"v2":1.45},{"p":"c4","v":1.425,"v2":1.475},{"p":"c4","v":1.45,"v2":1.5},{"p":"c4","v":1.475,"v2":1.525},{"p":"c4","v":1.5,"v2":1.55},{"p":"c4","v":1.525,"v2":1.575},{"p":"c4","v":1.55,"v2":1.6},{"p":"c4","v":1.575,"v2":1.625},{"p":"c4","v":1.6,"v2":1.65},{"p":"c4","v":1.625,"v2":1.675},{"p":"c4","v":1.65,"v2":1.7},{"p":"c4","v":1.675,"v2":1.725},{"p":"c4","v":1.7,"v2":1.745},{"p":"c4","v":1.725,"v2":1.745},
{"p":"f1","v":0.9,"v2":6.92},{"p":"f2","v":1,"v2":4.82},{"p":"f3","v":0.985,"v2":2.2},{"p":"f4","v":1,"v2":1.745}
]},
"concat":[
{"title":"FOM","width":179,"height":179,"transform":[{"filter":"datum.p=='a1'"}],"mark":{"type":"area","interpolate":"monotone"},"encoding":{"x":{"field":"x","type":"quantitative","scale":{"domain":[0,100],"nice":false,"zero":false},"axis":null},"y":{"field":"y","type":"quantitative","scale":{"domain":[100,0],"nice":false,"zero":false},"axis":null},"y2":{"field":"y2"},"color":{"field":"l","type":"quantitative","scale":{"scheme":"viridis","domain":[0.9,6.92]},"legend":null}}},
{"title":{"text":"a)\u2002Case\u2002C\u2002=\u20020.5,","font":"Liberation Serif","fontSize":22,"anchor":"start","align":"left","dx":-189,"offset":50,"color":"#222222"},"width":19,"height":179,"view":{"stroke":null},"data":{"values":[]},"mark":{"type":"rect","opacity":0},"encoding":{}},
{"title":"DL-ROM","width":179,"height":179,"transform":[{"filter":"datum.p=='a2'"}],"mark":{"type":"area","interpolate":"monotone"},"encoding":{"x":{"field":"x","type":"quantitative","scale":{"domain":[0,100],"nice":false,"zero":false},"axis":{"title":"Error: 3.09%","domain":false,"ticks":false,"labels":false,"grid":false,"titleAnchor":"start","titleFontSize":14,"titleFontWeight":"normal","titleColor":"#2b2b2b","titlePadding":3}},"y":{"field":"y","type":"quantitative","scale":{"domain":[100,0],"nice":false,"zero":false},"axis":null},"y2":{"field":"y2"},"color":{"field":"l","type":"quantitative","scale":{"scheme":"viridis","domain":[0.9,6.92]},"legend":null}}},
{"width":9.7,"height":179,"view":{"stroke":null},"data":{"values":[]},"mark":{"type":"rect","opacity":0},"encoding":{}},
{"width":8,"height":179,"view":{"stroke":null},"layer":[
{"transform":[{"filter":"datum.p=='c1'"}],"mark":"rect","encoding":{"y":{"field":"v","type":"quantitative","scale":{"domain":[0.841,7.035],"nice":false,"zero":false},"axis":{"title":null,"orient":"right","values":[0.9,1.65,2.4,3.15,3.9,4.65,5.4,6.15,6.9],"tickCount":20,"format":".2f","domain":false,"grid":false,"tickSize":4,"tickColor":"#333333","labelFontSize":13.4,"labelColor":"#2b2b2b","labelPadding":4,"labelOverlap":false,"labelFlush":false}},"y2":{"field":"v2"},"color":{"field":"v","type":"quantitative","scale":{"scheme":"viridis","domain":[0.9,6.92]},"legend":null}}},
{"transform":[{"filter":"datum.p=='f1'"}],"mark":{"type":"rect","filled":false,"stroke":"#444444","strokeWidth":1},"encoding":{"y":{"field":"v","type":"quantitative"},"y2":{"field":"v2"}}}
]},
{"width":89.5,"height":179,"view":{"stroke":null},"data":{"values":[]},"mark":{"type":"rect","opacity":0},"encoding":{}},
{"title":"FOM","width":179,"height":179,"transform":[{"filter":"datum.p=='b1'"}],"mark":{"type":"area","interpolate":"monotone","orient":"horizontal"},"encoding":{"y":{"field":"y","type":"quantitative","scale":{"domain":[100,0],"nice":false,"zero":false},"axis":null},"x":{"field":"x","type":"quantitative","scale":{"domain":[0,100],"nice":false,"zero":false},"axis":null},"x2":{"field":"x2"},"color":{"field":"l","type":"quantitative","scale":{"scheme":"viridis","domain":[0.985,2.2]},"legend":null}}},
{"title":{"text":"b)\u2002Case\u2002C\u2002=\u200240","font":"Liberation Serif","fontSize":22,"anchor":"start","align":"left","dx":-179,"offset":50,"color":"#222222"},"width":18,"height":179,"view":{"stroke":null},"data":{"values":[]},"mark":{"type":"rect","opacity":0},"encoding":{}},
{"title":"DL-ROM","width":179,"height":179,"transform":[{"filter":"datum.p=='b2'"}],"mark":{"type":"area","interpolate":"monotone","orient":"horizontal"},"encoding":{"y":{"field":"y","type":"quantitative","scale":{"domain":[100,0],"nice":false,"zero":false},"axis":null},"x":{"field":"x","type":"quantitative","scale":{"domain":[0,100],"nice":false,"zero":false},"axis":{"title":"Error: 1.85%","domain":false,"ticks":false,"labels":false,"grid":false,"titleAnchor":"start","titleFontSize":14,"titleFontWeight":"normal","titleColor":"#2b2b2b","titlePadding":3}},"x2":{"field":"x2"},"color":{"field":"l","type":"quantitative","scale":{"scheme":"viridis","domain":[0.985,2.2]},"legend":null}}},
{"width":10,"height":179,"view":{"stroke":null},"data":{"values":[]},"mark":{"type":"rect","opacity":0},"encoding":{}},
{"width":8,"height":179,"view":{"stroke":null},"layer":[
{"transform":[{"filter":"datum.p=='c3'"}],"mark":"rect","encoding":{"y":{"field":"v","type":"quantitative","scale":{"domain":[0.973,2.223],"nice":false,"zero":false},"axis":{"title":null,"orient":"right","values":[0.99,1.14,1.29,1.44,1.59,1.74,1.89,2.04,2.19],"tickCount":20,"format":".2f","domain":false,"grid":false,"tickSize":4,"tickColor":"#333333","labelFontSize":13.4,"labelColor":"#2b2b2b","labelPadding":4,"labelOverlap":false,"labelFlush":false}},"y2":{"field":"v2"},"color":{"field":"v","type":"quantitative","scale":{"scheme":"viridis","domain":[0.985,2.2]},"legend":null}}},
{"transform":[{"filter":"datum.p=='f3'"}],"mark":{"type":"rect","filled":false,"stroke":"#444444","strokeWidth":1},"encoding":{"y":{"field":"v","type":"quantitative"},"y2":{"field":"v2"}}}
]},

{"width":179,"height":178,"transform":[{"filter":"datum.p=='a3'"}],"mark":{"type":"area","interpolate":"monotone"},"encoding":{"x":{"field":"x","type":"quantitative","scale":{"domain":[0,100],"nice":false,"zero":false},"axis":null},"y":{"field":"y","type":"quantitative","scale":{"domain":[100,0],"nice":false,"zero":false},"axis":null},"y2":{"field":"y2"},"color":{"field":"l","type":"quantitative","scale":{"scheme":"viridis","domain":[1,4.82]},"legend":null}}},
{"width":19,"height":178,"view":{"stroke":null},"data":{"values":[]},"mark":{"type":"rect","opacity":0},"encoding":{}},
{"width":179,"height":178,"transform":[{"filter":"datum.p=='a4'"}],"mark":{"type":"area","interpolate":"monotone"},"encoding":{"x":{"field":"x","type":"quantitative","scale":{"domain":[0,100],"nice":false,"zero":false},"axis":{"title":"Error: 1.83%","domain":false,"ticks":false,"labels":false,"grid":false,"titleAnchor":"start","titleFontSize":14,"titleFontWeight":"normal","titleColor":"#2b2b2b","titlePadding":3}},"y":{"field":"y","type":"quantitative","scale":{"domain":[100,0],"nice":false,"zero":false},"axis":null},"y2":{"field":"y2"},"color":{"field":"l","type":"quantitative","scale":{"scheme":"viridis","domain":[1,4.82]},"legend":null}}},
{"width":9.7,"height":178,"view":{"stroke":null},"data":{"values":[]},"mark":{"type":"rect","opacity":0},"encoding":{}},
{"width":8,"height":178,"view":{"stroke":null},"layer":[
{"transform":[{"filter":"datum.p=='c2'"}],"mark":"rect","encoding":{"y":{"field":"v","type":"quantitative","scale":{"domain":[0.956,4.877],"nice":false,"zero":false},"axis":{"title":null,"orient":"right","values":[1,1.4,1.8,2.2,2.6,3,3.4,3.8,4.2,4.6],"tickCount":20,"format":".1f","domain":false,"grid":false,"tickSize":4,"tickColor":"#333333","labelFontSize":13.4,"labelColor":"#2b2b2b","labelPadding":4,"labelOverlap":false,"labelFlush":false}},"y2":{"field":"v2"},"color":{"field":"v","type":"quantitative","scale":{"scheme":"viridis","domain":[1,4.82]},"legend":null}}},
{"transform":[{"filter":"datum.p=='f2'"}],"mark":{"type":"rect","filled":false,"stroke":"#444444","strokeWidth":1},"encoding":{"y":{"field":"v","type":"quantitative"},"y2":{"field":"v2"}}}
]},
{"width":89.5,"height":178,"view":{"stroke":null},"data":{"values":[]},"mark":{"type":"rect","opacity":0},"encoding":{}},
{"width":179,"height":178,"transform":[{"filter":"datum.p=='b3'"}],"mark":{"type":"area","interpolate":"monotone"},"encoding":{"x":{"field":"x","type":"quantitative","scale":{"domain":[0,100],"nice":false,"zero":false},"axis":null},"y":{"field":"y","type":"quantitative","scale":{"domain":[100,0],"nice":false,"zero":false},"axis":null},"y2":{"field":"y2"},"color":{"field":"l","type":"quantitative","scale":{"scheme":"viridis","domain":[1,1.745]},"legend":null}}},
{"width":18,"height":178,"view":{"stroke":null},"data":{"values":[]},"mark":{"type":"rect","opacity":0},"encoding":{}},
{"width":179,"height":178,"transform":[{"filter":"datum.p=='b4'"}],"mark":{"type":"area","interpolate":"monotone"},"encoding":{"x":{"field":"x","type":"quantitative","scale":{"domain":[0,100],"nice":false,"zero":false},"axis":{"title":"Error: 0.84%","domain":false,"ticks":false,"labels":false,"grid":false,"titleAnchor":"start","titleFontSize":14,"titleFontWeight":"normal","titleColor":"#2b2b2b","titlePadding":3}},"y":{"field":"y","type":"quantitative","scale":{"domain":[100,0],"nice":false,"zero":false},"axis":null},"y2":{"field":"y2"},"color":{"field":"l","type":"quantitative","scale":{"scheme":"viridis","domain":[1,1.745]},"legend":null}}},
{"width":10,"height":178,"view":{"stroke":null},"data":{"values":[]},"mark":{"type":"rect","opacity":0},"encoding":{}},
{"width":8,"height":178,"view":{"stroke":null},"layer":[
{"transform":[{"filter":"datum.p=='c4'"}],"mark":"rect","encoding":{"y":{"field":"v","type":"quantitative","scale":{"domain":[0.991,1.756],"nice":false,"zero":false},"axis":{"title":null,"orient":"right","values":[1,1.08,1.16,1.24,1.32,1.4,1.48,1.56,1.64,1.72],"tickCount":20,"format":".2f","domain":false,"grid":false,"tickSize":4,"tickColor":"#333333","labelFontSize":13.4,"labelColor":"#2b2b2b","labelPadding":4,"labelOverlap":false,"labelFlush":false}},"y2":{"field":"v2"},"color":{"field":"v","type":"quantitative","scale":{"scheme":"viridis","domain":[1,1.745]},"legend":null}}},
{"transform":[{"filter":"datum.p=='f4'"}],"mark":{"type":"rect","filled":false,"stroke":"#444444","strokeWidth":1},"encoding":{"y":{"field":"v","type":"quantitative"},"y2":{"field":"v2"}}}
]}
]}
